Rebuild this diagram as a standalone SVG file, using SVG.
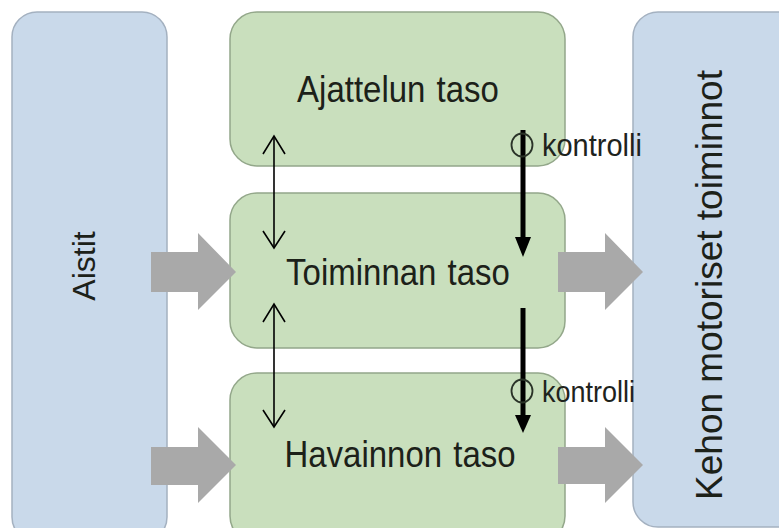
<svg xmlns="http://www.w3.org/2000/svg" width="779" height="528" viewBox="0 0 779 528">
  <defs>
    <style>
      .blue { fill: #c9d9ea; stroke: #a4b1c0; stroke-width: 1.5; }
      .green { fill: #c9dfbd; stroke: #93a78a; stroke-width: 1.5; }
      .gray { fill: #a9a9a9; stroke: none; }
      .lbl { font-family: "Liberation Sans", Arial, sans-serif; font-size: 33px; fill: #1c2119; word-spacing: 2px; }
      .side { font-family: "Liberation Sans", Arial, sans-serif; fill: #1c2119; }
      .ctl { font-family: "Liberation Sans", Arial, sans-serif; fill: #1e231d; }
      .thin { stroke: #000; stroke-width: 1.6; fill: none; }
      .thick { stroke: #000; stroke-width: 5; fill: none; }
      .circ { fill: none; stroke: #2a3328; stroke-width: 1.8; }
    </style>
  </defs>
  <rect width="779" height="528" fill="#ffffff"/>

  <g id="aistit">
    <rect class="blue" x="12" y="12" width="155" height="530" rx="25" ry="25"/>
    <text class="side" transform="translate(95,266) rotate(-90)" text-anchor="middle" font-size="32">Aistit</text>
  </g>

  <g id="kehon">
    <rect class="blue" x="633" y="12" width="170" height="515" rx="25" ry="25"/>
    <text class="side" transform="translate(722,285) rotate(-90)" text-anchor="middle" font-size="37">Kehon motoriset toiminnot</text>
  </g>

  <g id="ajattelun">
    <rect class="green" x="230" y="12" width="335" height="154" rx="27" ry="27"/>
    <text class="lbl" transform="translate(398,102) scale(1,1.12)" text-anchor="middle">Ajattelun taso</text>
  </g>

  <g id="toiminnan">
    <rect class="green" x="230" y="193" width="335" height="155" rx="27" ry="27"/>
    <text class="lbl" transform="translate(398,285) scale(1,1.12)" text-anchor="middle">Toiminnan taso</text>
  </g>

  <g id="havainnon">
    <rect class="green" x="230" y="373" width="335" height="170" rx="27" ry="27"/>
    <text class="lbl" transform="translate(400,467) scale(1,1.12)" text-anchor="middle">Havainnon taso</text>
  </g>

  <g id="connectors">
    <polygon class="gray" points="151,252 198,252 198,233 236,272 198,310 198,292 151,292"/>
    <polygon class="gray" points="151,447 198,447 198,427 236,465 198,503 198,485 151,485"/>
    <polygon class="gray" points="558,252 605,252 605,233 643,272 605,310 605,292 558,292"/>
    <polygon class="gray" points="558,447 605,447 605,427 643,465 605,503 605,484 558,484"/>

    <line class="thin" x1="274" y1="136" x2="274" y2="248"/>
    <polyline class="thin" points="263,154 274,136 285,154"/>
    <polyline class="thin" points="263,231 274,248 285,231"/>

    <line class="thin" x1="274" y1="304" x2="274" y2="427"/>
    <polyline class="thin" points="263,322 274,304 285,322"/>
    <polyline class="thin" points="263,410 274,427 285,410"/>

    <line class="thick" x1="523" y1="130" x2="523" y2="240"/>
    <polygon fill="#000" points="515,237 531,237 523,257"/>
    <line class="thick" x1="523" y1="308" x2="523" y2="418"/>
    <polygon fill="#000" points="515,415 531,415 523,433"/>

    <ellipse class="circ" cx="522" cy="145" rx="10.5" ry="11.5"/>
    <text class="ctl" transform="translate(542,156) scale(1,1.1)" font-size="29">kontrolli</text>
    <ellipse class="circ" cx="522" cy="391" rx="10.5" ry="11.5"/>
    <text class="ctl" transform="translate(542,402) scale(1,1.1)" font-size="27">kontrolli</text>
  </g>
</svg>
